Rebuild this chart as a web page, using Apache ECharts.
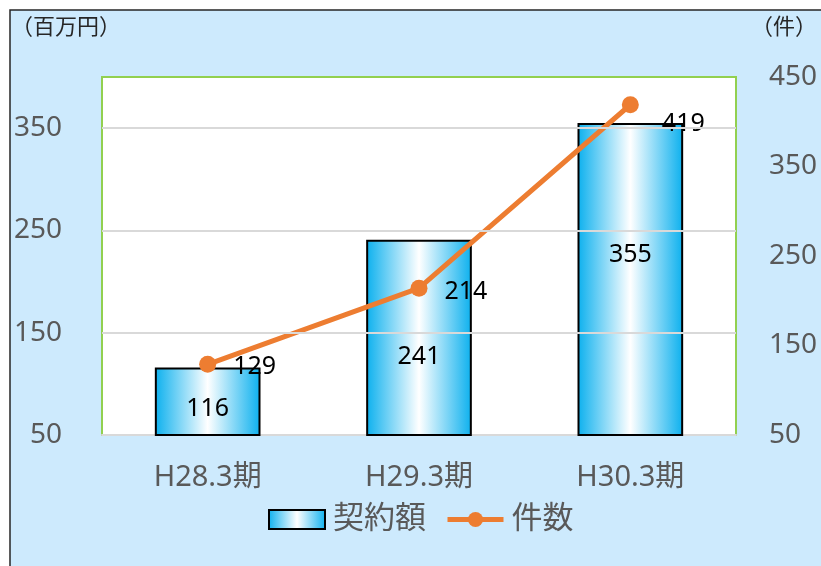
<!DOCTYPE html>
<html>
<head>
<meta charset="utf-8">
<script src="https://cdn.jsdelivr.net/npm/echarts@6/dist/echarts.min.js"></script>
<style>
  html, body { margin: 0; padding: 0; background: #ffffff; }
  #chart { width: 821px; height: 566px; }
</style>
</head>
<body>
<div id="chart"></div>
<script>
// Fiscal periods and their figures
const categories = ['H28.3期', 'H29.3期', 'H30.3期'];
const contractAmounts = [116, 241, 355];   // 契約額（百万円）
const contractCounts = [129, 214, 419];    // 件数（件）

// Labelled ticks on each value axis
const leftTicks = [50, 150, 250, 350];
const rightTicks = [50, 150, 250, 350, 450];

// Label nudges for the individual marks
const barLabelOffsets = [[0, 7], [0, 19], [0, -25]];
const lineLabelOffsets = [[12, 3], [12, 4], [18, 19]];

const FONT = '"Noto Sans", "Noto Sans CJK JP", sans-serif';
const AXIS_GREY = '#595959';

const barFill = new echarts.graphic.LinearGradient(0, 0, 1, 0, [
  { offset: 0, color: '#0bb0ee' },
  { offset: 0.5, color: '#ffffff' },
  { offset: 1, color: '#0bb0ee' }
]);

const chart = echarts.init(document.getElementById('chart'), null, { renderer: 'canvas' });

chart.setOption({
  backgroundColor: '#ffffff',
  animation: false,
  textStyle: { fontFamily: FONT },
  graphic: [
    {
      type: 'rect',
      shape: { x: 10, y: 10, width: 830, height: 580 },
      style: { fill: '#cdeafd', stroke: '#262626', lineWidth: 1.5 },
      z: -10
    },
    {
      type: 'text', left: 11, top: 17,
      style: { text: '（百万円）', fill: '#262626', font: '22px ' + FONT }
    },
    {
      type: 'text', left: 751, top: 17,
      style: { text: '（件）', fill: '#262626', font: '22px ' + FONT }
    }
  ],
  grid: {
    left: 102, right: 85, top: 77, bottom: 131,
    show: true,
    backgroundColor: '#ffffff',
    borderColor: '#92d050',
    borderWidth: 2
  },
  legend: {
    bottom: 26,
    left: 263,
    itemWidth: 56,
    itemHeight: 19,
    itemGap: 19,
    lineStyle: { width: 5 },
    textStyle: { color: AXIS_GREY, fontSize: 31, fontFamily: FONT, padding: [0, 0, 0, 3] },
    data: [{ name: '契約額', icon: 'rect' }, { name: '件数' }]
  },
  xAxis: {
    type: 'category',
    data: categories,
    axisTick: { show: false },
    axisLine: { lineStyle: { color: '#d9d9d9', width: 2 } },
    axisLabel: { color: AXIS_GREY, fontSize: 29, margin: 28, fontFamily: FONT }
  },
  yAxis: [
    {
      type: 'value',
      min: 50, max: 400, interval: 50,
      splitLine: { show: false },
      axisLine: { show: false },
      axisTick: { show: false },
      axisLabel: {
        color: AXIS_GREY, fontSize: 28, margin: 40, fontFamily: FONT,
        formatter: v => (leftTicks.includes(v) ? String(v) : '')
      }
    },
    {
      type: 'value',
      min: 50, max: 450, interval: 50,
      position: 'right',
      splitLine: { show: false },
      axisLine: { show: false },
      axisTick: { show: false },
      axisLabel: {
        color: AXIS_GREY, fontSize: 28, margin: 33, fontFamily: FONT,
        formatter: v => (rightTicks.includes(v) ? String(v) : '')
      }
    }
  ],
  series: [
    {
      name: '契約額',
      type: 'bar',
      yAxisIndex: 0,
      barWidth: '50%',
      itemStyle: { color: barFill, borderColor: '#000000', borderWidth: 2 },
      label: {
        show: true, position: 'inside', color: '#000000',
        fontSize: 25, fontFamily: FONT
      },
      data: contractAmounts.map((v, i) => ({ value: v, label: { offset: barLabelOffsets[i] } })),
      markLine: {
        silent: true,
        symbol: 'none',
        label: { show: false },
        lineStyle: { color: '#d9d9d9', width: 2, type: 'solid' },
        data: leftTicks.filter(t => t > 50).map(t => ({ yAxis: t }))
      },
      z: 2
    },
    {
      name: '件数',
      type: 'line',
      yAxisIndex: 1,
      symbol: 'circle',
      symbolSize: 17,
      lineStyle: { color: '#ed7d31', width: 5 },
      itemStyle: { color: '#ed7d31' },
      label: {
        show: true, position: 'right', distance: 5, color: '#000000',
        fontSize: 25, fontFamily: FONT
      },
      data: contractCounts.map((v, i) => ({ value: v, label: { offset: lineLabelOffsets[i] } })),
      z: 3
    }
  ]
});
</script>
</body>
</html>
